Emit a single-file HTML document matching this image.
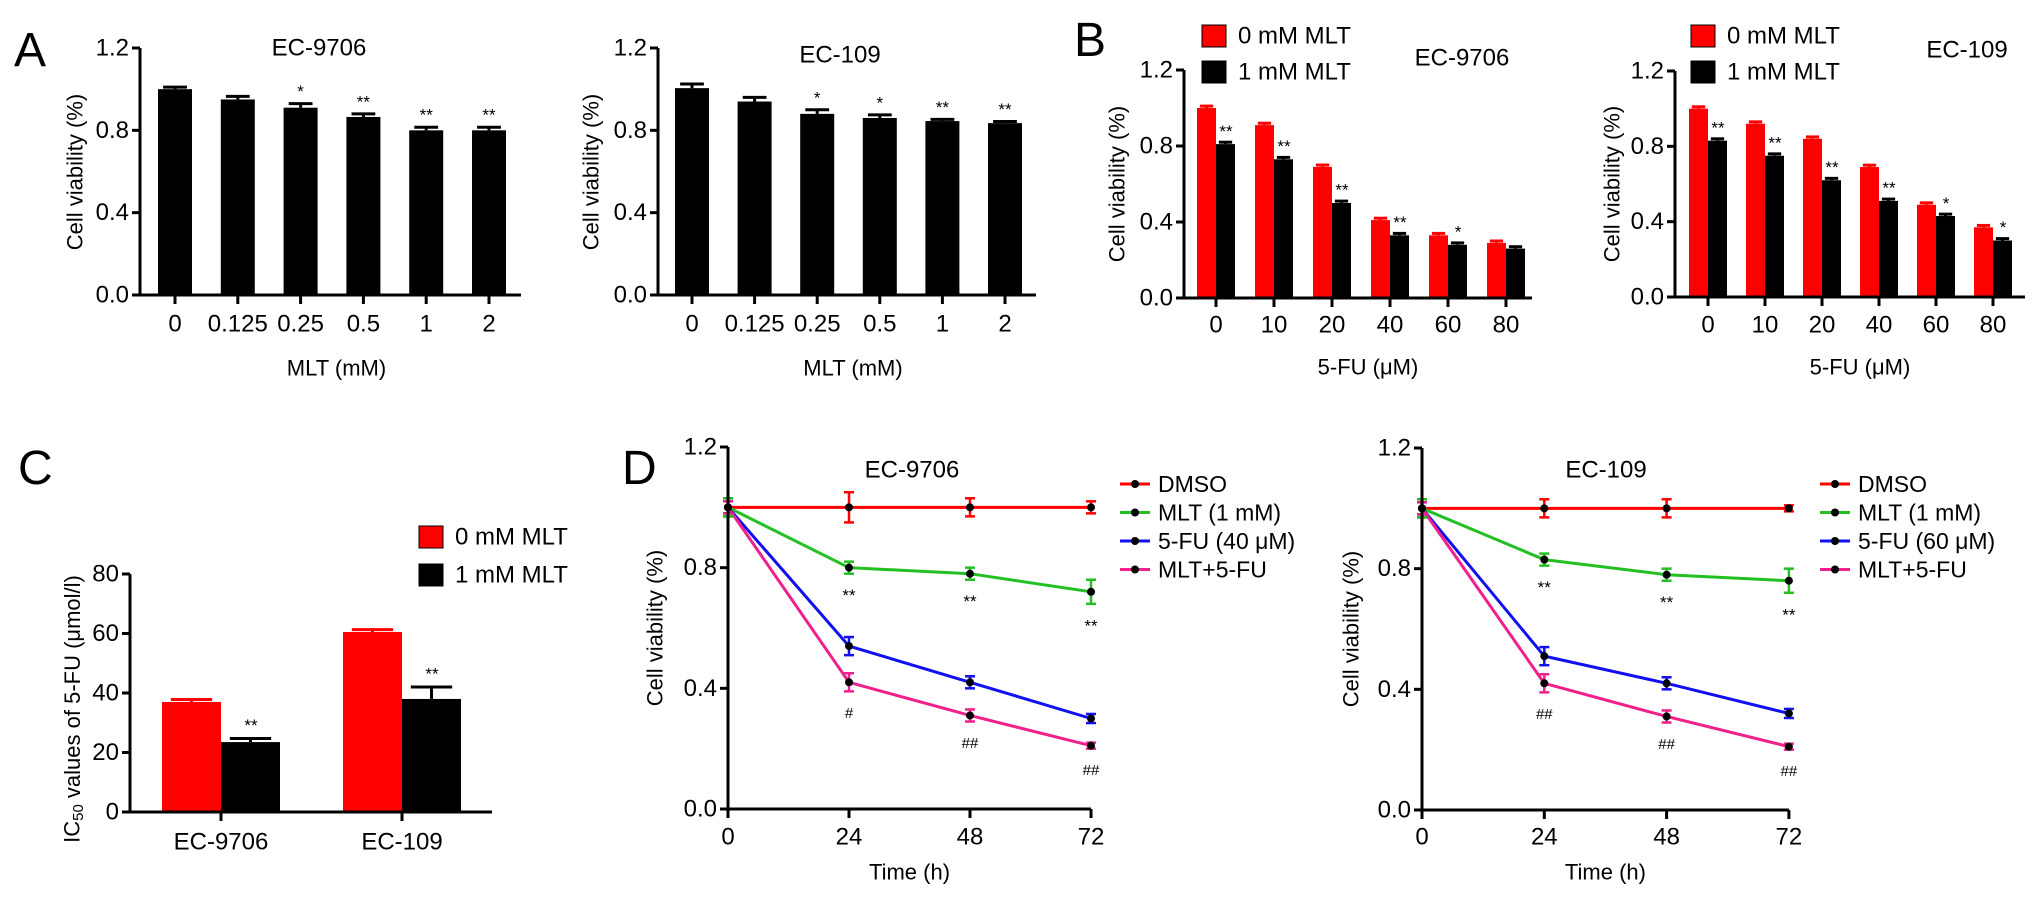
<!DOCTYPE html>
<html><head><meta charset="utf-8"><style>
html,body{margin:0;padding:0;background:#fff;}
svg{display:block;font-family:"Liberation Sans",Arial,sans-serif;}
</style></head><body>
<svg id="fig" width="2032" height="899" viewBox="0 0 2032 899" xmlns="http://www.w3.org/2000/svg">
<rect width="2032" height="899" fill="#fff"/>
<text x="14" y="66" font-size="48">A</text>
<text x="1074" y="56" font-size="48">B</text>
<text x="18" y="484" font-size="48">C</text>
<text x="622" y="484" font-size="48">D</text>
</svg>
<script>
const aCats=['0','0.125','0.25','0.5','1','2'];
const a1Vals=[1.0,0.95,0.91,0.865,0.80,0.80];
const a1Err=[0.01,0.015,0.02,0.015,0.015,0.015];
const a1Sig=['','','*','**','**','**'];
const a2Vals=[1.005,0.94,0.88,0.86,0.845,0.835];
const a2Err=[0.02,0.02,0.02,0.015,0.008,0.008];
const a2Sig=['','','*','*','**','**'];
const vTicks=[0,0.4,0.8,1.2];
const vTickLabels=['0.0','0.4','0.8','1.2'];
const bCats=['0','10','20','40','60','80'];
const b1Red=[1.0,0.91,0.69,0.41,0.33,0.29];
const b1Blk=[0.81,0.73,0.50,0.33,0.28,0.26];
const b1Sig=['**','**','**','**','*',''];
const b2Red=[1.0,0.92,0.84,0.69,0.49,0.37];
const b2Blk=[0.83,0.75,0.62,0.51,0.43,0.30];
const b2Sig=['**','**','**','**','*','*'];
const cCats=['EC-9706','EC-109'];
const cRed=[37,60.5];
const cBlk=[23.5,38];
const cRedErr=[0.8,0.8];
const cBlkErr=[1.2,4];
const cSig=['**','**'];
const cTicks=[0,20,40,60,80];
const dTimes=[0,24,48,72];
const d1DMSO=[1,1,1,1];
const d1MLT=[1,0.80,0.78,0.72];
const d1FU=[1,0.54,0.42,0.30];
const d1Combo=[1,0.42,0.31,0.21];
const d2DMSO=[1,1,1,1];
const d2MLT=[1,0.83,0.78,0.76];
const d2FU=[1,0.51,0.42,0.32];
const d2Combo=[1,0.42,0.31,0.21];
const d1DMSOErr=[0.03,0.05,0.03,0.02];
const d2DMSOErr=[0.03,0.03,0.03,0.01];
const dMLTErr=[0.03,0.02,0.02,0.04];
const dFUErr=[0.02,0.03,0.02,0.015];
const dComboErr=[0.02,0.03,0.02,0.01];
const d1MLTSig=['','**','**','**'];
const d1ComboSig=['','#','##','##'];
const d2MLTSig=['','**','**','**'];
const d2ComboSig=['','##','##','##'];
const dLegend=['DMSO','MLT (1 mM)','5-FU (40 \u03bcM)','MLT+5-FU'];
const dLegend2=['DMSO','MLT (1 mM)','5-FU (60 \u03bcM)','MLT+5-FU'];

const NS='http://www.w3.org/2000/svg';
const svg=document.getElementById('fig');
function el(tag,attrs,parent,text){const e=document.createElementNS(NS,tag);for(const k in attrs)e.setAttribute(k,attrs[k]);if(text!==undefined)e.textContent=text;(parent||svg).appendChild(e);return e;}
function lin(d0,d1,r0,r1){return v=>r0+(v-d0)*(r1-r0)/(d1-d0);}
function grp(name){const g=el('g',{});return g;}
function txt(g,x,y,s,size,anchor,name,extra){const t=el('text',Object.assign({x:x,y:y,'font-size':size,'text-anchor':anchor||'middle','dominant-baseline':'central'},extra||{}),g,s);return t;}

function yAxis(g,x,y,ticks,labels,top){
  const l=el('line',{x1:x,y1:y(0),x2:x,y2:top,stroke:'#000','stroke-width':3},g);
  
  ticks.forEach((t,i)=>{el('line',{x1:x-8,y1:y(t),x2:x,y2:y(t),stroke:'#000','stroke-width':3},g);
    txt(g,x-11,y(t),labels[i],24,'end','y-tick-label');});
}
function xAxis(g,x0,x1,y0,centers,labels,ly){
  const l=el('line',{x1:x0,y1:y0,x2:x1,y2:y0,stroke:'#000','stroke-width':3},g);
  
  centers.forEach((c,i)=>{el('line',{x1:c,y1:y0,x2:c,y2:y0+9,stroke:'#000','stroke-width':3},g);
    txt(g,c,ly,labels[i],24,'middle','x-tick-label');});
}
function bar(g,x,w,y,v,e,color,name){
  const r=el('rect',{x:x,y:y(v),width:w,height:y(0)-y(v),fill:color},g);
  
  const c=x+w/2;
  el('line',{x1:c,y1:y(v),x2:c,y2:y(v+e),stroke:color,'stroke-width':3},g);
  el('line',{x1:c-w*0.35,y1:y(v+e),x2:c+w*0.35,y2:y(v+e),stroke:color,'stroke-width':3},g);
}
function ylabel(g,x,y,s){txt(g,x,y,s,22,'middle','y-axis-title',{transform:`rotate(-90 ${x} ${y})`});}

// Panel A
function panelA(name,ax,xEnd,first,step,vals,err,sig,title,titleX,titleY,ylx){
  const g=grp(name);
  const y=lin(0,1.2,295,48);
  const centers=aCats.map((_,i)=>first+i*step);
  vals.forEach((v,i)=>{bar(g,centers[i]-17,34,y,v,err[i],'#000','bar-'+aCats[i]);
    if(sig[i])txt(g,centers[i],y(v+err[i])-12,sig[i],17,'middle','significance-mark');});
  yAxis(g,ax,y,vTicks,vTickLabels,48);
  xAxis(g,ax,xEnd,295,centers,aCats,324);
  txt(g,titleX,titleY,title,24,'middle','chart-title');
  txt(g,(ax+xEnd)/2+6,368,'MLT (mM)',22,'middle','x-axis-title');
  ylabel(g,ylx,172,'Cell viability (%)');
}
panelA('panel-a-ec9706',140,521,175,62.8,a1Vals,a1Err,a1Sig,'EC-9706',319,48,75);
panelA('panel-a-ec109',658,1036,692,62.6,a2Vals,a2Err,a2Sig,'EC-109',840,55,591);

// Panel B
function legendBox(g,x,y,color,label,name){
  const r=el('rect',{x:x,y:y-11,width:24,height:22,fill:color,stroke:'#000','stroke-width':1},g);
  
  txt(g,x+36,y,label,24,'start',name+'-label');
}
function panelB(name,ax,xEnd,y0,y12,first,step,red,blk,sig,title,titleX,titleY,ylx,legX,xtX){
  const g=grp(name);
  const y=lin(0,1.2,y0,y12);
  const centers=bCats.map((_,i)=>first+i*step);
  red.forEach((v,i)=>{bar(g,centers[i]-19,19,y,v,0.01,'#f00','bar-0mm-'+bCats[i]);});
  blk.forEach((v,i)=>{bar(g,centers[i],19,y,v,0.01,'#000','bar-1mm-'+bCats[i]);
    if(sig[i])txt(g,centers[i]+10,y(v+0.02)-9,sig[i],17,'middle','significance-mark');});
  yAxis(g,ax,y,vTicks,vTickLabels,y12);
  xAxis(g,ax,xEnd,y0,centers,bCats,325);
  txt(g,titleX,titleY,title,24,'middle','chart-title');
  txt(g,xtX,367,'5-FU (\u03bcM)',22,'middle','x-axis-title');
  ylabel(g,ylx,y(0.6),'Cell viability (%)');
  legendBox(g,legX,36,'#f00','0 mM MLT','legend-0mm');
  legendBox(g,legX,72,'#000','1 mM MLT','legend-1mm');
}
panelB('panel-b-ec9706',1184,1532,298,70,1216,58,b1Red,b1Blk,b1Sig,'EC-9706',1462,58,1117,1202,1368);
panelB('panel-b-ec109',1675,2025,297,71,1708,57,b2Red,b2Blk,b2Sig,'EC-109',1967,50,1612,1691,1860);

// Panel C
(function(){
  const g=grp('panel-c-ic50');
  const y=lin(0,80,812,574);
  const centers=[221,402];
  cRed.forEach((v,i)=>bar(g,centers[i]-59,59,y,v,cRedErr[i],'#f00','bar-0mm-'+cCats[i]));
  cBlk.forEach((v,i)=>{bar(g,centers[i],59,y,v,cBlkErr[i],'#000','bar-1mm-'+cCats[i]);
    txt(g,centers[i]+30,y(v+cBlkErr[i])-13,cSig[i],17,'middle','significance-mark');});
  yAxis(g,130,y,cTicks,cTicks.map(String),574);
  xAxis(g,130,492,812,centers,cCats,842);
  const t=txt(g,72,709,'',22,'middle','y-axis-title',{transform:'rotate(-90 72 709)'});
  t.innerHTML='IC<tspan font-size="15" dy="6">50</tspan><tspan dy="-6"> values of 5-FU (\u03bcmol/l)</tspan>';
  legendBox(g,419,537,'#f00','0 mM MLT','legend-0mm');
  legendBox(g,419,575,'#000','1 mM MLT','legend-1mm');
})();

// Panel D
const dColors=['#f00','#22c022','#1010f0','#f0208c'];
function panelD(name,ax,step,y0,series,errs,mltSig,comboSig,legend,title,titleX,ylx,legX){
  const g=grp(name);
  const y=lin(0,1.2,y0,y0-362);
  const x=lin(0,24,ax,ax+step);
  series.forEach((s,k)=>{
    const pts=s.map((v,i)=>x(dTimes[i])+','+y(v)).join(' ');
    const pl=el('polyline',{points:pts,fill:'none',stroke:dColors[k],'stroke-width':3},g);
    
    
  });
  series.forEach((s,k)=>{
    s.forEach((v,i)=>{const cx=x(dTimes[i]),e=errs[k][i];
      el('line',{x1:cx,y1:y(v-e),x2:cx,y2:y(v+e),stroke:dColors[k],'stroke-width':2.5},g);
      el('line',{x1:cx-5,y1:y(v-e),x2:cx+5,y2:y(v-e),stroke:dColors[k],'stroke-width':2.5},g);
      el('line',{x1:cx-5,y1:y(v+e),x2:cx+5,y2:y(v+e),stroke:dColors[k],'stroke-width':2.5},g);
      const p=el('circle',{cx:cx,cy:y(v),r:4,fill:'#000'},g);
      
    });
  });
  dTimes.forEach((t,i)=>{
    if(mltSig[i])txt(g,x(t),y(series[1][i]-errs[1][i])+22,mltSig[i],17,'middle','significance-mark');
    if(comboSig[i])txt(g,x(t),y(series[3][i]-errs[3][i])+22,comboSig[i],15,'middle','significance-mark');
  });
  yAxis(g,ax,y,vTicks,vTickLabels,y0-362);
  xAxis(g,ax,x(72),y0,dTimes.map(t=>x(t)),dTimes.map(String),837);
  txt(g,titleX,470,title,24,'middle','chart-title');
  txt(g,(ax+x(72))/2,872,'Time (h)',22,'middle','x-axis-title');
  ylabel(g,ylx,y(0.6),'Cell viability (%)');
  legend.forEach((lb,k)=>{const ly=484+k*28.5;
    const l=el('line',{x1:legX,y1:ly,x2:legX+30,y2:ly,stroke:dColors[k],'stroke-width':3},g);
    
    el('circle',{cx:legX+15,cy:ly,r:4,fill:'#000'},g);
    txt(g,legX+38,ly,lb,23,'start','legend-label');
  });
}
panelD('panel-d-ec9706',728,121,809,[d1DMSO,d1MLT,d1FU,d1Combo],[d1DMSOErr,dMLTErr,dFUErr,dComboErr],d1MLTSig,d1ComboSig,dLegend,'EC-9706',912,655,1120);
panelD('panel-d-ec109',1422,122.3,810,[d2DMSO,d2MLT,d2FU,d2Combo],[d2DMSOErr,dMLTErr,dFUErr,dComboErr],d2MLTSig,d2ComboSig,dLegend2,'EC-109',1606,1351,1820);
</script>
</body></html>
